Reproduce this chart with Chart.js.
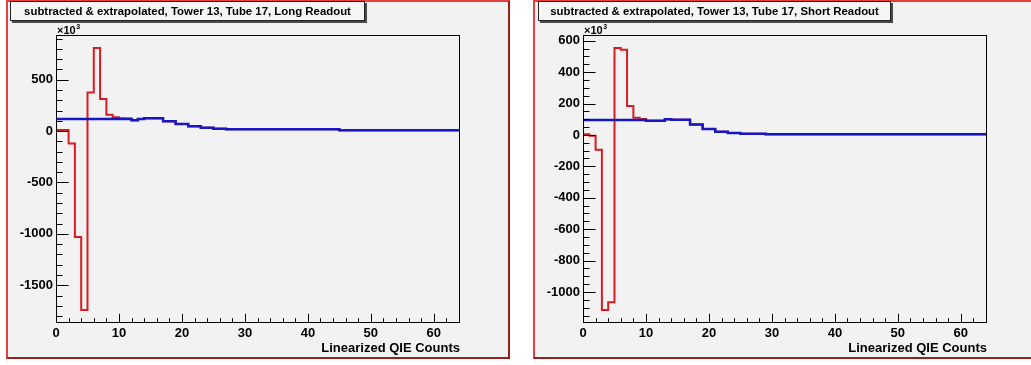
<!DOCTYPE html>
<html>
<head>
<meta charset="utf-8">
<script src="https://cdn.jsdelivr.net/npm/chart.js@4.4.0/dist/chart.umd.min.js"></script>
<style>
  html, body { margin: 0; padding: 0; background: #fff; }
  #wrap { position: relative; width: 1031px; height: 365px; overflow: hidden; }
  canvas { position: absolute; top: 0; }
  #cLong { left: 0; }
  #cShort { left: 516px; }
</style>
</head>
<body>
<div id="wrap">
  <canvas id="cLong" width="516" height="365"></canvas>
  <canvas id="cShort" width="515" height="365"></canvas>
</div>
<script>
// Bin contents (units of 10^3), one value per unit-wide bin from 0 to 64.
const redLong = [
  10, 10, -120, -1030, -1740, 375, 808, 313, 160, 134, 125, 122,
  105, 118, 124, 124, 124, 95, 95, 70, 70, 47, 47, 32, 32, 24, 24,
  17, 17, 17, 17, 17, 17, 17, 17, 17, 17, 17, 17, 17, 17, 17, 17, 17, 17,
  9, 9, 9, 9, 9, 9, 9, 9, 9, 9, 9, 9, 9, 9, 9, 9, 9, 9, 9
];
const blueLong = [
  118, 118, 118, 118, 118, 118, 118, 118, 118, 118, 118, 118,
  105, 118, 124, 124, 124, 95, 95, 70, 70, 47, 47, 32, 32, 24, 24,
  17, 17, 17, 17, 17, 17, 17, 17, 17, 17, 17, 17, 17, 17, 17, 17, 17, 17,
  9, 9, 9, 9, 9, 9, 9, 9, 9, 9, 9, 9, 9, 9, 9, 9, 9, 9, 9
];
const redShort = [
  4, -6, -95, -1114, -1065, 553, 542, 184, 110, 101,
  90, 90, 90, 99, 96, 96, 96, 66, 66, 37, 37, 21, 21, 12, 12, 7, 7, 7, 7,
  4, 4, 4, 4, 4, 4, 4, 4, 4, 4, 4, 4, 4, 4, 4, 4, 4, 4, 4, 4, 4, 4, 4, 4, 4, 4, 4, 4, 4, 4, 4, 4, 4, 4, 4
];
const blueShort = [
  95, 95, 95, 95, 95, 95, 95, 95, 95, 95,
  90, 90, 90, 99, 96, 96, 96, 66, 66, 37, 37, 21, 21, 12, 12, 7, 7, 7, 7,
  4, 4, 4, 4, 4, 4, 4, 4, 4, 4, 4, 4, 4, 4, 4, 4, 4, 4, 4, 4, 4, 4, 4, 4, 4, 4, 4, 4, 4, 4, 4, 4, 4, 4, 4
];

// Axis ranges and labelled tick values
const xRange = [0, 64];
const xTicks = [0, 10, 20, 30, 40, 50, 60];
const yRangeLong = [-1867, 935];
const yTicksLong = [-1500, -1000, -500, 0, 500];
const yRangeShort = [-1197, 636];
const yTicksShort = [-1000, -800, -600, -400, -200, 0, 200, 400, 600];

const titleLong = 'subtracted & extrapolated, Tower 13, Tube 17, Long Readout';
const titleShort = 'subtracted & extrapolated, Tower 13, Tube 17, Short Readout';
const xTitle = 'Linearized QIE Counts';

const RED = '#d81c22';
const BLUE = '#1616c4';
const FONT = '"Liberation Sans", Arial, Helvetica, sans-serif';

// histogram outline: one point per bin low edge plus the final upper edge
function histPoints(vals) {
  const pts = vals.map((v, i) => ({ x: i, y: v }));
  pts.push({ x: vals.length, y: vals[vals.length - 1] });
  return pts;
}

// Pad decoration: bevelled frame, title pave, axis frame, inner ticks, exponent and axis title
const rootPad = {
  id: 'rootPad',
  beforeDraw(chart, args, o) {
    const c = chart.ctx;
    c.save();
    c.fillStyle = '#ffffff';
    c.fillRect(0, 0, chart.width, chart.height);
    const p = o.panel;
    c.fillStyle = '#f2f2f2';
    c.fillRect(p.x, p.y, p.w, p.h);
    c.lineWidth = 2;
    c.strokeStyle = '#e2413f';
    c.beginPath();
    c.moveTo(p.x + 1, p.y + p.h);
    c.lineTo(p.x + 1, p.y + 1);
    c.lineTo(p.x + p.w, p.y + 1);
    c.stroke();
    c.strokeStyle = '#97201f';
    c.beginPath();
    c.moveTo(p.x + 1, p.y + p.h - 1);
    c.lineTo(p.x + p.w - 1, p.y + p.h - 1);
    c.lineTo(p.x + p.w - 1, p.y + 1);
    c.stroke();

    const t = o.title;
    c.fillStyle = '#4a4a4a';
    c.fillRect(t.x + 2, t.y + 2, t.w, t.h);
    c.fillStyle = '#f5f5f5';
    c.fillRect(t.x, t.y, t.w, t.h);
    c.lineWidth = 1;
    c.strokeStyle = '#222';
    c.strokeRect(t.x + 0.5, t.y + 0.5, t.w - 1, t.h - 1);
    c.fillStyle = '#000';
    c.font = 'bold 11.4px ' + FONT;
    c.textAlign = 'center';
    c.textBaseline = 'middle';
    c.fillText(t.text, t.x + t.w / 2, t.y + t.h / 2 + 0.5);
    c.restore();
  },
  afterDatasetsDraw(chart, args, o) {
    const c = chart.ctx;
    const a = chart.chartArea;
    const xs = chart.scales.x, ys = chart.scales.y;
    const L = a.left + 0.5, R = a.right + 0.5, T = a.top + 0.5, B = a.bottom - 0.5;
    c.save();
    c.lineWidth = 1;
    c.strokeStyle = '#000';
    c.strokeRect(L, T, R - L, B - T);

    const xMajor = (a.bottom - a.top) * 0.03;
    const yMajor = (a.right - a.left) * 0.03;
    c.beginPath();
    for (let v = Math.ceil(xs.min / o.xMinor) * o.xMinor; v <= xs.max + 1e-9; v += o.xMinor) {
      const px = Math.round(xs.getPixelForValue(v)) + 0.5;
      const len = xTicks.includes(v) ? xMajor : xMajor / 2;
      c.moveTo(px, B);
      c.lineTo(px, B - len);
    }
    for (let v = Math.ceil(ys.min / o.yMinor) * o.yMinor; v <= ys.max + 1e-9; v += o.yMinor) {
      const py = Math.round(ys.getPixelForValue(v)) + 0.5;
      const len = o.yTicks.includes(v) ? yMajor : yMajor / 2;
      c.moveTo(L, py);
      c.lineTo(L + len, py);
    }
    c.stroke();

    // exponent above the y axis
    c.fillStyle = '#000';
    c.textAlign = 'left';
    c.textBaseline = 'alphabetic';
    c.font = 'bold 11px ' + FONT;
    c.fillText('\u00d710', a.left + 1, a.top - 1);
    const w = c.measureText('\u00d710').width;
    c.font = 'bold 7px ' + FONT;
    c.fillText('3', a.left + 1 + w + 0.5, a.top - 6);

    // x axis title, right-aligned to the frame
    c.font = 'bold 13px ' + FONT;
    c.textAlign = 'right';
    c.textBaseline = 'middle';
    c.fillText(xTitle, a.right + 1, a.bottom + 25);
    c.restore();
  }
};

function makeChart(id, red, blue, yRange, yTicks, yMinor, yWidth, padRight, panel, title) {
  return new Chart(document.getElementById(id), {
    type: 'line',
    data: {
      datasets: [
        { data: histPoints(blue), borderColor: BLUE, borderWidth: 2.5, stepped: 'before',
          pointRadius: 0, fill: false, tension: 0 },
        { data: histPoints(red), borderColor: RED, borderWidth: 2, stepped: 'before',
          pointRadius: 0, fill: false, tension: 0 }
      ]
    },
    options: {
      responsive: false,
      animation: false,
      events: [],
      layout: { padding: { left: 0, right: padRight, top: 35, bottom: 0 } },
      plugins: {
        legend: { display: false },
        tooltip: { enabled: false },
        title: { display: false },
        rootPad: { panel: panel, title: title, xMinor: 2, yMinor: yMinor, yTicks: yTicks }
      },
      scales: {
        x: {
          type: 'linear', min: xRange[0], max: xRange[1],
          afterBuildTicks: s => { s.ticks = xTicks.map(v => ({ value: v })); },
          afterFit: s => { s.height = 42; },
          grid: { display: false, drawTicks: false },
          border: { display: false },
          ticks: { color: '#000', padding: 3, maxRotation: 0, autoSkip: false,
                   font: { family: FONT, size: 13, weight: 'bold' },
                   callback: v => String(v) }
        },
        y: {
          type: 'linear', min: yRange[0], max: yRange[1],
          afterBuildTicks: s => { s.ticks = yTicks.map(v => ({ value: v })); },
          afterFit: s => { s.width = yWidth; },
          grid: { display: false, drawTicks: false },
          border: { display: false },
          ticks: { color: '#000', padding: 3, autoSkip: false,
                   font: { family: FONT, size: 13, weight: 'bold' },
                   callback: v => String(v) }
        }
      }
    },
    plugins: [rootPad]
  });
}

makeChart('cLong', redLong, blueLong, yRangeLong, yTicksLong, 100, 56, 57,
  { x: 6, y: 0, w: 504, h: 359 },
  { x: 10, y: 1, w: 355, h: 20, text: titleLong });

makeChart('cShort', redShort, blueShort, yRangeShort, yTicksShort, 50, 67, 45,
  { x: 17, y: 0, w: 500, h: 359 },
  { x: 22, y: 1, w: 353, h: 20, text: titleShort });
</script>
</body>
</html>
